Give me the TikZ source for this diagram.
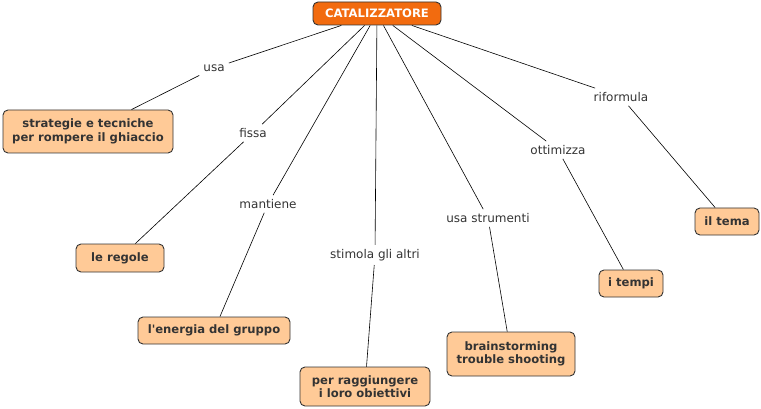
\documentclass[tikz,border=0pt]{standalone}
\usepackage{fontspec}
\setmainfont{DejaVu Sans}
\usetikzlibrary{arrows,shapes,backgrounds}

\definecolor{topfill}{HTML}{F26B0F}
\definecolor{boxfill}{HTML}{FFCA97}
\definecolor{txtgray}{HTML}{333333}

\tikzset{
	concetto/.style={draw=txtgray, fill=boxfill, rounded corners=5pt, line width=0.9pt,
		text=txtgray, font=\fontsize{11.6}{13.5}\selectfont\bfseries, align=center, inner sep=0pt},
	radice/.style={concetto, fill=topfill, text=white},
	frase/.style={text=txtgray, font=\fontsize{12}{14}\selectfont, inner sep=4pt},
	legame/.style={draw=black, line width=0.6pt}
}

\begin{document}
\begin{tikzpicture}[x=1pt, y=-1pt]
	\useasboundingbox (0,0) rectangle (761,409);
	\node [radice, minimum width=128, minimum height=23] (cat) at (377, 13.5) {CATALIZZATORE};

	\node [concetto, minimum width=170, minimum height=43] (b0) at (88, 131.5) {strategie e tecniche\\per rompere il ghiaccio};
	\node [concetto, minimum width=88, minimum height=28] (b1) at (120, 258) {le regole};
	\node [concetto, minimum width=152, minimum height=27] (b2) at (214, 330.5) {l\textquotesingle energia del gruppo};
	\node [concetto, minimum width=130, minimum height=39] (b3) at (365, 386.5) {per raggiungere\\ i loro obiettivi};
	\node [concetto, minimum width=128, minimum height=44] (b4) at (511, 354) {brainstorming\\trouble shooting};
	\node [concetto, minimum width=64, minimum height=27] (b5) at (631, 283.5) {i tempi};
	\node [concetto, minimum width=64, minimum height=27] (b6) at (727, 221.5) {il tema};

	\node [frase] (l0) at (214, 68) {usa};
	\node [frase] (l1) at (253, 133) {fissa};
	\node [frase] (l2) at (268, 204) {mantiene};
	\node [frase] (l3) at (375, 255) {stimola gli altri};
	\node [frase] (l4) at (488, 218) {usa strumenti};
	\node [frase] (l5) at (558, 150) {ottimizza};
	\node [frase] (l6) at (621, 97) {riformula};

	\foreach \i in {0,...,6}
		\draw [legame] (cat) -- (l\i) -- (b\i);
\end{tikzpicture}
\end{document}
